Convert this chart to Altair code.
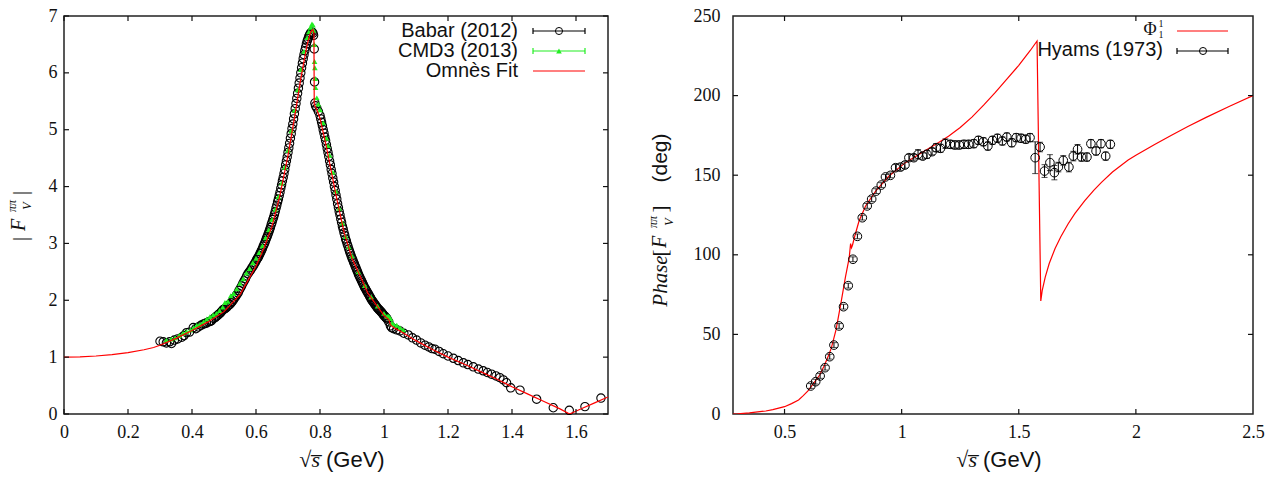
import altair as alt
import pandas as pd

# ---------------- data ----------------
babar_x = [0.300, 0.310, 0.320, 0.330, 0.336, 0.345, 0.355, 0.368, 0.375, 0.383, 0.392, 0.404, 0.412, 0.420,
           0.428, 0.435, 0.445, 0.452, 0.461, 0.468, 0.477, 0.485, 0.492, 0.498, 0.505, 0.512, 0.519, 0.526,
           0.533, 0.540, 0.547, 0.555, 0.563, 0.571, 0.579, 0.587, 0.594, 0.600,
           0.605, 0.610, 0.615, 0.620, 0.625, 0.630, 0.635, 0.640, 0.645, 0.650, 0.655, 0.660, 0.665, 0.670,
           0.675, 0.680, 0.685, 0.690, 0.695, 0.700, 0.705, 0.710, 0.715, 0.720, 0.725, 0.730, 0.735, 0.740,
           0.745, 0.750, 0.755, 0.760, 0.765, 0.770, 0.775, 0.778, 0.780, 0.782, 0.783, 0.784,
           0.786, 0.790, 0.795, 0.800, 0.805, 0.810, 0.815, 0.820, 0.825, 0.830, 0.835, 0.840, 0.845, 0.850,
           0.855, 0.860, 0.865, 0.870, 0.875, 0.880, 0.885, 0.890, 0.895, 0.900, 0.905, 0.910, 0.915, 0.920,
           0.925, 0.930, 0.935, 0.940, 0.945, 0.950, 0.955, 0.960, 0.965, 0.970, 0.975, 0.980, 0.985, 0.990,
           0.995, 1.000, 1.005, 1.010, 1.015, 1.020, 1.024, 1.030, 1.040, 1.050, 1.062, 1.076, 1.089, 1.102,
           1.115, 1.128, 1.140, 1.150, 1.159, 1.172, 1.185, 1.200, 1.217, 1.232, 1.248, 1.262, 1.279, 1.295,
           1.310, 1.323, 1.336, 1.350, 1.362, 1.373, 1.383, 1.396, 1.425, 1.477, 1.529, 1.579, 1.628, 1.678,
           # denser band on the resonance flanks
           0.440, 0.457, 0.473, 0.481, 0.489, 0.495, 0.502, 0.509, 0.516, 0.523, 0.530, 0.537, 0.544, 0.551,
           0.559, 0.567, 0.575, 0.583, 0.591, 0.597,
           0.6025, 0.6075, 0.6125, 0.6175, 0.6225, 0.6275, 0.6325, 0.6375, 0.6425, 0.6475, 0.6525, 0.6575,
           0.6625, 0.6675, 0.6725, 0.6775, 0.6825, 0.6875, 0.6925, 0.6975, 0.7025, 0.7075, 0.7125, 0.7175,
           0.7225, 0.7275, 0.7325, 0.7375, 0.7425, 0.7475, 0.7525, 0.7575, 0.7625, 0.7675,
           0.8025, 0.8075, 0.8125, 0.8175, 0.8225, 0.8275, 0.8325, 0.8375, 0.8425, 0.8475, 0.8525, 0.8575,
           0.8625, 0.8675, 0.8725, 0.8775, 0.8825, 0.8875, 0.8925, 0.8975, 0.9025, 0.9075, 0.9125, 0.9175,
           0.9225, 0.9275, 0.9325, 0.9375, 0.9425, 0.9475, 0.9525, 0.9575, 0.9625, 0.9675, 0.9725, 0.9775,
           0.9825, 0.9875, 0.9925, 0.9975, 1.0025, 1.0075]
babar_y = [1.28, 1.27, 1.25, 1.27, 1.24, 1.30, 1.32, 1.35, 1.38, 1.43, 1.44, 1.52, 1.50, 1.53,
           1.56, 1.58, 1.60, 1.62, 1.64, 1.68, 1.72, 1.76, 1.80, 1.84, 1.86, 1.90, 1.93, 1.98,
           2.04, 2.10, 2.17, 2.25, 2.34, 2.43, 2.50, 2.57, 2.63, 2.69,
           2.74, 2.79, 2.85, 2.91, 2.98, 3.05, 3.12, 3.20, 3.28, 3.37, 3.46, 3.56, 3.67, 3.78,
           3.90, 4.03, 4.16, 4.30, 4.45, 4.60, 4.76, 4.93, 5.10, 5.28, 5.46, 5.64, 5.82, 6.00,
           6.17, 6.32, 6.45, 6.56, 6.64, 6.70, 6.72, 6.70, 6.66, 6.42, 5.84, 5.47,
           5.42, 5.38, 5.32, 5.25, 5.13, 5.00, 4.87, 4.74, 4.60, 4.45, 4.30, 4.15, 4.00, 3.85,
           3.70, 3.56, 3.43, 3.30, 3.19, 3.08, 2.99, 2.90, 2.82, 2.74, 2.67, 2.60, 2.53, 2.46,
           2.40, 2.34, 2.28, 2.22, 2.17, 2.12, 2.07, 2.02, 1.98, 1.94, 1.90, 1.86, 1.83, 1.80,
           1.77, 1.73, 1.70, 1.67, 1.62, 1.55, 1.52, 1.50, 1.48, 1.46, 1.42, 1.39, 1.34, 1.30,
           1.25, 1.21, 1.18, 1.15, 1.14, 1.10, 1.06, 1.02, 0.98, 0.94, 0.90, 0.87, 0.83, 0.79,
           0.76, 0.73, 0.70, 0.67, 0.64, 0.60, 0.55, 0.46, 0.42, 0.26, 0.11, 0.065, 0.13, 0.28,
           1.59, 1.63, 1.70, 1.74, 1.78, 1.82, 1.85, 1.88, 1.92, 1.96, 2.01, 2.07, 2.13, 2.21,
           2.30, 2.38, 2.47, 2.53, 2.60, 2.66,
           2.72, 2.76, 2.82, 2.88, 2.95, 3.01, 3.09, 3.16, 3.24, 3.33, 3.42, 3.51,
           3.62, 3.73, 3.84, 3.97, 4.10, 4.23, 4.38, 4.52, 4.68, 4.85, 5.02, 5.19,
           5.37, 5.55, 5.73, 5.91, 6.09, 6.25, 6.39, 6.51, 6.60, 6.67,
           5.19, 5.07, 4.94, 4.81, 4.67, 4.53, 4.38, 4.23, 4.08, 3.93, 3.78, 3.63,
           3.50, 3.37, 3.25, 3.14, 3.04, 2.95, 2.86, 2.78, 2.71, 2.64, 2.57, 2.50,
           2.43, 2.37, 2.31, 2.25, 2.20, 2.15, 2.10, 2.05, 2.00, 1.96, 1.92, 1.88,
           1.85, 1.82, 1.79, 1.75, 1.72, 1.69]

cmd3_x = [0.320, 0.335, 0.347, 0.360, 0.372, 0.383, 0.395, 0.405, 0.415, 0.425, 0.436, 0.446, 0.456, 0.466,
          0.476, 0.486, 0.496, 0.503, 0.512, 0.521, 0.530, 0.540, 0.550, 0.560, 0.570, 0.580, 0.590, 0.600,
          0.610, 0.620, 0.630, 0.640, 0.650, 0.660, 0.670, 0.680, 0.690, 0.700, 0.710, 0.720, 0.730, 0.740,
          0.750, 0.760, 0.765, 0.770, 0.775, 0.778, 0.780, 0.782, 0.783, 0.784, 0.785, 0.786, 0.790, 0.795,
          0.800, 0.810, 0.820, 0.825, 0.830, 0.840, 0.850, 0.860, 0.870, 0.880, 0.890, 0.900, 0.920, 0.940,
          0.960, 0.980, 1.000, 1.010, 1.015, 1.020, 1.025, 1.030, 1.040, 1.050, 1.060]
cmd3_y = [1.30, 1.32, 1.34, 1.38, 1.42, 1.45, 1.48, 1.52, 1.56, 1.58, 1.62, 1.67, 1.71, 1.74,
          1.77, 1.82, 1.88, 1.96, 1.98, 2.08, 2.12, 2.20, 2.30, 2.38, 2.48, 2.56, 2.66, 2.74,
          2.84, 2.96, 3.10, 3.24, 3.42, 3.60, 3.82, 4.06, 4.34, 4.64, 4.98, 5.34, 5.70, 6.06,
          6.38, 6.62, 6.72, 6.80, 6.86, 6.84, 6.75, 6.50, 6.20, 6.09, 5.90, 5.74, 5.56, 5.45,
          5.35, 5.12, 4.85, 4.72, 4.55, 4.25, 3.92, 3.62, 3.36, 3.12, 2.94, 2.78, 2.50, 2.26,
          2.06, 1.90, 1.77, 1.72, 1.72, 1.68, 1.60, 1.58, 1.56, 1.52, 1.48]

fitL_x = [0.0, 0.05, 0.1, 0.15, 0.2, 0.25, 0.28, 0.3, 0.35, 0.4, 0.45, 0.5, 0.55, 0.6, 0.625, 0.65, 0.675,
          0.7, 0.72, 0.74, 0.76, 0.77, 0.775, 0.778, 0.781, 0.782, 0.79, 0.8, 0.82, 0.85, 0.875, 0.9, 0.95,
          1.0, 1.015, 1.02, 1.03, 1.05, 1.1, 1.15, 1.2, 1.25, 1.3, 1.35, 1.4, 1.45, 1.5, 1.55, 1.58, 1.62,
          1.66, 1.7]
fitL_y = [1.0, 1.005, 1.02, 1.045, 1.08, 1.13, 1.17, 1.21, 1.33, 1.47, 1.62, 1.80, 2.10, 2.60, 2.92, 3.30, 3.85,
          4.55, 5.20, 5.90, 6.50, 6.70, 6.75, 6.76, 6.70, 5.45, 5.35, 5.20, 4.70, 3.85, 3.20, 2.74, 2.12,
          1.73, 1.66, 1.57, 1.52, 1.46, 1.29, 1.14, 1.00, 0.88, 0.75, 0.62, 0.48, 0.35, 0.22, 0.09, 0.0, 0.10,
          0.20, 0.30]

hyams_x = [0.612, 0.633, 0.652, 0.673, 0.693, 0.711, 0.733, 0.752, 0.772, 0.792, 0.811, 0.832, 0.853, 0.872,
           0.891, 0.913, 0.931, 0.952, 0.974, 0.995, 1.014, 1.031, 1.052, 1.070, 1.090, 1.108, 1.130, 1.147,
           1.166, 1.187, 1.208, 1.227, 1.246, 1.266, 1.286, 1.308, 1.328, 1.349, 1.368, 1.388, 1.409, 1.430,
           1.449, 1.470, 1.489, 1.510, 1.530, 1.548, 1.570, 1.591, 1.610, 1.633, 1.652, 1.669, 1.690, 1.714,
           1.733, 1.751, 1.768, 1.791, 1.808, 1.830, 1.851, 1.871, 1.891]
hyams_y = [17.6, 20.3, 23.9, 29.1, 36.0, 43.3, 55.3, 67.4, 80.6, 97.2, 111.6, 123.3, 130.7, 135.0,
           140.0, 143.8, 148.9, 149.9, 154.7, 155.1, 156.4, 161.0, 161.0, 163.1, 162.0, 163.1, 164.8, 167.3,
           166.9, 169.8, 169.4, 169.0, 169.0, 169.4, 169.4, 169.8, 171.9, 171.0, 168.3, 171.9, 173.2, 171.5,
           174.0, 170.4, 173.6, 173.2, 172.6, 173.6, 161.0, 167.7, 152.6, 157.9, 151.6, 155.1, 159.3, 155.1,
           162.0, 166.3, 161.4, 161.4, 169.8, 165.2, 169.8, 162.0, 169.4]
hyams_err = [1.5, 1.5, 1.5, 1.5, 1.5, 1.5, 1.5, 1.5, 1.5, 1.5, 1.5, 1.5, 1.5, 1.5,
             1.5, 1.5, 1.5, 1.5, 2.0, 2.0, 2.0, 2.0, 2.0, 3.0, 2.0, 2.5, 2.0, 2.5,
             2.5, 3.0, 2.5, 2.5, 2.5, 2.5, 2.5, 2.5, 2.5, 2.5, 2.5, 2.5, 2.5, 2.5,
             2.5, 2.5, 2.5, 2.5, 2.5, 2.5, 10.0, 3.0, 4.0, 5.0, 4.5, 3.0, 3.0, 3.0,
             3.0, 3.0, 2.5, 2.5, 2.5, 2.5, 2.5, 2.5, 2.5]

fitR_x = [0.28, 0.3, 0.35, 0.42, 0.45, 0.5, 0.53, 0.56, 0.58, 0.6, 0.62, 0.65, 0.67, 0.69, 0.7, 0.72, 0.73,
          0.74, 0.76, 0.776, 0.782, 0.786, 0.79, 0.8, 0.818, 0.846, 0.889, 0.946, 1.016, 1.087, 1.158, 1.2,
          1.25, 1.3, 1.35, 1.4, 1.45, 1.5, 1.55, 1.578, 1.594, 1.6, 1.613, 1.63, 1.655, 1.68, 1.711, 1.74,
          1.782, 1.82, 1.853, 1.9, 1.967, 2.0, 2.08, 2.15, 2.222, 2.3, 2.4, 2.5]
fitR_y = [0.0, 0.1, 0.7, 1.9, 2.7, 4.6, 6.5, 8.8, 11.5, 14.5, 18.5, 24.5, 30.5, 37.5, 41.5, 53.0, 61.0,
          69.0, 86.0, 98.0, 107.0, 104.5, 106.0, 111.8, 121.2, 130.7, 140.0, 149.5, 157.9, 164.2, 170.5, 174.5,
          180.0, 186.5, 194.0, 202.0, 210.5, 219.0, 228.5, 234.3, 71.0, 77.5, 86.0, 94.5, 104.0, 111.5, 119.5,
          126.0, 134.0, 140.5, 145.5, 152.0, 159.5, 162.5, 169.3, 175.0, 180.6, 186.3, 193.3, 200.0]

xticksL = [0, 0.2, 0.4, 0.6, 0.8, 1, 1.2, 1.4, 1.6]
yticksL = [0, 1, 2, 3, 4, 5, 6, 7]
xticksR = [0.5, 1, 1.5, 2, 2.5]
yticksR = [0, 50, 100, 150, 200, 250]

# ---------------- styling ----------------
W1, W2, H = 544, 520, 398
SERIF = "Liberation Serif"
SANS = "Liberation Sans"
INK = "#111111"
GREEN = "#22ee22"
RED = "#ff0000"
TL = 5  # inward tick length
LBL = "'' + datum.value"

one = pd.DataFrame({"k": [0]})


def txt(text, x, y, size=20, font=SANS, style="normal", angle=0, align="center",
        baseline="middle", color=INK):
    return alt.Chart(one).mark_text(
        text=text, font=font, fontSize=size, fontStyle=style, angle=angle,
        align=align, baseline=baseline, color=color
    ).encode(x=alt.value(x), y=alt.value(y))


def hrule(x1, x2, y, color, width=1.2):
    return alt.Chart(one).mark_rule(color=color, strokeWidth=width).encode(
        x=alt.value(x1), x2=alt.value(x2), y=alt.value(y))


def vrule(x, y1, y2, color, width=1.2):
    return alt.Chart(one).mark_rule(color=color, strokeWidth=width).encode(
        x=alt.value(x), y=alt.value(y1), y2=alt.value(y2))


def sym(x, y, shape, size, filled, color):
    return alt.Chart(one).mark_point(shape=shape, size=size, filled=filled, color=color,
                                     strokeWidth=1, opacity=1).encode(
        x=alt.value(x), y=alt.value(y))


def inward_ticks(xs, ys, xsc, ysc, W):
    dx = pd.DataFrame({"t": xs})
    dy = pd.DataFrame({"t": ys})
    bx = alt.Chart(dx).mark_rule(color=INK, strokeWidth=1.2).encode(
        x=alt.X("t:Q", scale=xsc), y=alt.value(H), y2=alt.value(H - TL))
    tx = alt.Chart(dx).mark_rule(color=INK, strokeWidth=1.2).encode(
        x=alt.X("t:Q", scale=xsc), y=alt.value(0), y2=alt.value(TL))
    ly = alt.Chart(dy).mark_rule(color=INK, strokeWidth=1.2).encode(
        y=alt.Y("t:Q", scale=ysc), x=alt.value(0), x2=alt.value(TL))
    ry = alt.Chart(dy).mark_rule(color=INK, strokeWidth=1.2).encode(
        y=alt.Y("t:Q", scale=ysc), x=alt.value(W), x2=alt.value(W - TL))
    return [bx, tx, ly, ry]


def ax(values, pad):
    return alt.Axis(values=values, labelExpr=LBL, title=None, labelPadding=pad, labelFlush=False)


# ---------------- left panel ----------------
xsL = alt.Scale(domain=[0, 1.7], nice=False, zero=False)
ysL = alt.Scale(domain=[0, 7], nice=False, zero=False)

df_babar = pd.DataFrame({"x": babar_x, "y": babar_y})
df_cmd3 = pd.DataFrame({"x": cmd3_x, "y": cmd3_y})
df_fitL = pd.DataFrame({"x": fitL_x, "y": fitL_y})

babar = alt.Chart(df_babar).mark_point(shape="circle", filled=False, size=70, color="black",
                                       strokeWidth=1.1, opacity=1).encode(
    x=alt.X("x:Q", scale=xsL, axis=ax(xticksL, 9)), y=alt.Y("y:Q", scale=ysL, axis=ax(yticksL, 7)))
cmd3 = alt.Chart(df_cmd3).mark_point(shape="triangle-up", filled=True, size=32, color=GREEN,
                                     opacity=1).encode(
    x=alt.X("x:Q", scale=xsL), y=alt.Y("y:Q", scale=ysL))
fitL = alt.Chart(df_fitL).mark_line(color=RED, strokeWidth=1.2, clip=True).encode(
    x=alt.X("x:Q", scale=xsL), y=alt.Y("y:Q", scale=ysL), order="x:Q")

legL = [
    txt("Babar (2012)", 454, 21, baseline="alphabetic", align="right"),
    hrule(469, 521, 15, "black"), vrule(469, 12, 18, "black"), vrule(521, 12, 18, "black"),
    sym(495, 15, "circle", 50, False, "black"),
    txt("CMD3 (2013)", 454, 41, baseline="alphabetic", align="right"),
    hrule(469, 521, 35, GREEN), vrule(469, 32, 38, GREEN), vrule(521, 32, 38, GREEN),
    sym(495, 35, "triangle-up", 32, True, GREEN),
    txt("Omnès Fit", 454, 61, baseline="alphabetic", align="right"),
    hrule(469, 521, 55, RED),
]

titleL = [
    txt("|", -44, 223, size=22, font=SERIF, angle=270),
    txt("F", -45, 209, size=20, font=SERIF, style="italic", angle=270),
    txt("ππ", -52, 190, size=12, font=SERIF, style="italic", angle=270),
    txt("V", -37, 190, size=12, font=SERIF, style="italic", angle=270),
    txt("|", -44, 177, size=22, font=SERIF, angle=270),
    txt("√s̅", W1 / 2 - 16, H + 53, size=22, font=SERIF, style="italic", align="right",
        baseline="alphabetic"),
    txt("(GeV)", W1 / 2 - 10, H + 53, size=22, align="left", baseline="alphabetic"),
]

left = alt.layer(babar, cmd3, fitL, *inward_ticks(xticksL, yticksL, xsL, ysL, W1), *legL,
                 *titleL).properties(width=W1, height=H)

# ---------------- right panel ----------------
xsR = alt.Scale(domain=[0.28, 2.5], nice=False, zero=False)
ysR = alt.Scale(domain=[0, 250], nice=False, zero=False)

df_h = pd.DataFrame({"x": hyams_x, "y": hyams_y, "e": hyams_err})
df_h["lo"] = df_h["y"] - df_h["e"]
df_h["hi"] = df_h["y"] + df_h["e"]
df_fitR = pd.DataFrame({"x": fitR_x, "y": fitR_y})

fitR = alt.Chart(df_fitR).mark_line(color=RED, strokeWidth=1.2, clip=True).encode(
    x=alt.X("x:Q", scale=xsR, axis=ax(xticksR, 9)), y=alt.Y("y:Q", scale=ysR, axis=ax(yticksR, 13)),
    order="x:Q")
hbar = alt.Chart(df_h).mark_rule(color="black", strokeWidth=1).encode(
    x=alt.X("x:Q", scale=xsR), y=alt.Y("lo:Q", scale=ysR), y2="hi:Q")
hcap1 = alt.Chart(df_h).mark_tick(orient="horizontal", color="black", thickness=1, size=6).encode(
    x=alt.X("x:Q", scale=xsR), y=alt.Y("lo:Q", scale=ysR))
hcap2 = alt.Chart(df_h).mark_tick(orient="horizontal", color="black", thickness=1, size=6).encode(
    x=alt.X("x:Q", scale=xsR), y=alt.Y("hi:Q", scale=ysR))
hpt = alt.Chart(df_h).mark_point(shape="circle", filled=False, size=75, color="black",
                                 strokeWidth=1, opacity=1).encode(
    x=alt.X("x:Q", scale=xsR), y=alt.Y("y:Q", scale=ysR))

legR = [
    txt("Φ", 417, 14, size=18, font=SERIF),
    txt("1", 428, 8, size=10, font=SERIF),
    txt("1", 428, 19, size=10, font=SERIF),
    hrule(444, 495, 15, RED),
    txt("Hyams (1973)", 430, 40, baseline="alphabetic", align="right"),
    hrule(444, 495, 35, "black"), vrule(444, 32, 38, "black"), vrule(495, 32, 38, "black"),
    sym(470, 35, "circle", 50, False, "black"),
]

titleR = [
    txt("Phase", -72, 265, size=21, font=SERIF, style="italic", angle=270),
    txt("[", -72, 237, size=21, font=SERIF, angle=270),
    txt("F", -73, 226, size=20, font=SERIF, style="italic", angle=270),
    txt("ππ", -80, 206, size=12, font=SERIF, style="italic", angle=270),
    txt("V", -64, 206, size=12, font=SERIF, style="italic", angle=270),
    txt("]", -72, 193, size=21, font=SERIF, angle=270),
    txt("(deg)", -72, 142, size=21, angle=270),
    txt("√s̅", W2 / 2 - 16, H + 53, size=22, font=SERIF, style="italic", align="right",
        baseline="alphabetic"),
    txt("(GeV)", W2 / 2 - 10, H + 53, size=22, align="left", baseline="alphabetic"),
]

right = alt.layer(fitR, hbar, hcap1, hcap2, hpt, *inward_ticks(xticksR[:-1], yticksR[1:-1], xsR, ysR, W2),
                  *legR, *titleR).properties(width=W2, height=H)

chart = alt.hconcat(left, right, spacing=36).properties(
    padding={"left": 5, "top": 6, "right": 0, "bottom": 0}
).configure(background="white").configure_view(
    stroke="#222222", strokeWidth=1.5
).configure_axis(
    labelFont=SERIF, labelFontSize=18, labelColor=INK, ticks=False, domain=False, grid=False
)

chart.save("out.html", embed_options={"renderer": "svg", "actions": False})
